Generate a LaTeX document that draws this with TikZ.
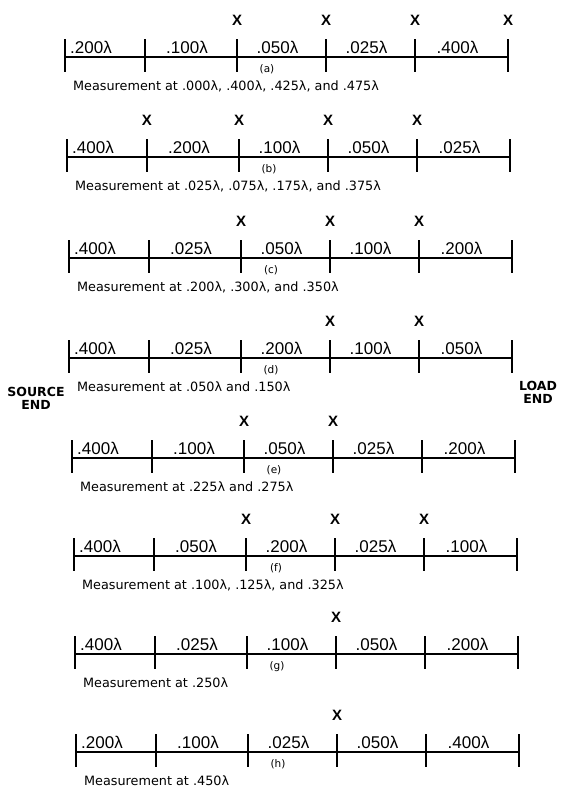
\documentclass[tikz,border=0pt]{standalone}
\usepackage{fontspec}
\setmainfont{DejaVu Sans}
\newfontfamily\labfont{Liberation Sans}
\usetikzlibrary{calc}
\tikzset{
  mainline/.style={line width=2.4pt},
  tickln/.style={line width=2.1pt},
  seglab/.style={font=\labfont\fontsize{17}{19}\selectfont, anchor=base, inner sep=0pt},
  xmark/.style={font=\labfont\bfseries\fontsize{15}{17}\selectfont, anchor=base, inner sep=0pt},
  paren/.style={font=\fontsize{10.5}{12}\selectfont, anchor=base, inner sep=0pt},
  meas/.style={font=\fontsize{12.8}{14}\selectfont, anchor=base west, inner sep=0pt},
  endlab/.style={font=\bfseries\fontsize{12.5}{13}\selectfont, align=center, inner sep=0pt},
}
\newcommand\txrow[7]{%
  \foreach \dx [count=\ii from 0] in {0,80,172,261,350,443}
    \coordinate (#1\ii) at (#3+\dx,#2);
  \draw[mainline] (#10) -- (#15);
  \foreach \ii in {0,...,5}
    \draw[tickln] ($(#1\ii)+(0,18pt)$) -- ($(#1\ii)+(0,-15pt)$);
  \foreach \lbl [count=\jj, evaluate=\jj as \kk using int(\jj-1)] in {#4} {
    \ifnum\jj=1
      \node[seglab, anchor=base west] (#1l\jj) at ($(#10)+(5pt,4pt)$) {\lbl λ};
    \else
      \node[seglab] (#1l\jj) at ($(#1\kk)!0.5!(#1\jj)+(-4pt,4pt)$) {\lbl λ};
    \fi
  }
  \foreach \ii in {#5}
    \node[xmark] (#1x\ii) at ($(#1\ii)+(0,32pt)$) {X};
  \node[paren] (#1p) at ($(#12)+(30pt,-15pt)$) {(#6)};
  \node[meas] (#1m) at ($(#10)+(8pt,-33pt)$) {Measurement at #7};
}
\begin{document}
\begin{tikzpicture}[x=1pt,y=-1pt]
\useasboundingbox[fill=white] (0,0) rectangle (560,787);
\txrow{a}{57}{65}{.200,.100,.050,.025,.400}{2,3,4,5}{a}{.000λ, .400λ, .425λ, and .475λ}
\txrow{b}{157}{67}{.400,.200,.100,.050,.025}{1,2,3,4}{b}{.025λ, .075λ, .175λ, and .375λ}
\txrow{c}{258}{69}{.400,.025,.050,.100,.200}{2,3,4}{c}{.200λ, .300λ, and .350λ}
\txrow{d}{358}{69}{.400,.025,.200,.100,.050}{3,4}{d}{.050λ and .150λ}
\txrow{e}{458}{72}{.400,.100,.050,.025,.200}{2,3}{e}{.225λ and .275λ}
\txrow{f}{556}{74}{.400,.050,.200,.025,.100}{2,3,4}{f}{.100λ, .125λ, and .325λ}
\txrow{g}{654}{75}{.400,.025,.100,.050,.200}{3}{g}{.250λ}
\txrow{h}{752}{76}{.200,.100,.025,.050,.400}{3}{h}{.450λ}
\node[endlab] (src) at (36,398) {SOURCE\\END};
\node[endlab] (load) at (538,392) {LOAD\\END};
\end{tikzpicture}
\end{document}
